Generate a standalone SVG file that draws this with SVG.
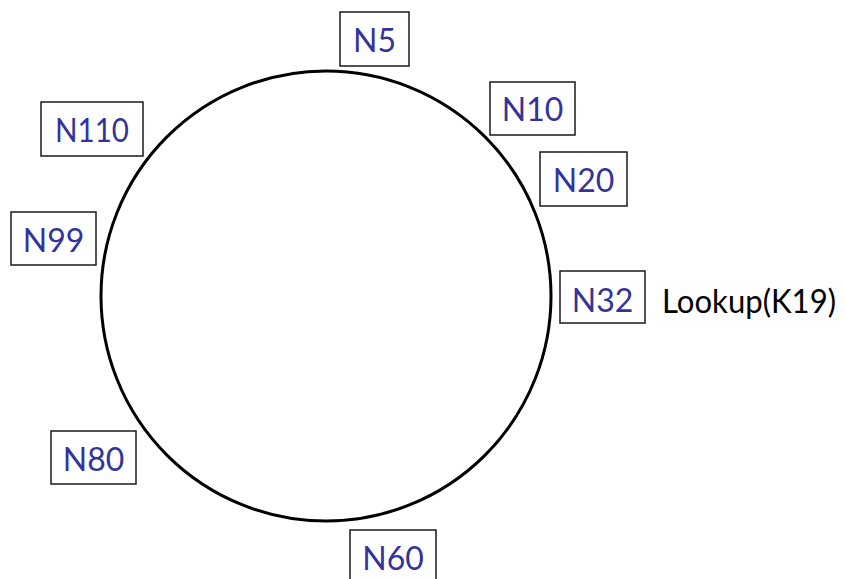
<svg xmlns="http://www.w3.org/2000/svg" width="845" height="579" viewBox="0 0 845 579">
<style>
.box{fill:#fff;stroke:#1a1a1a;stroke-width:1.5}
.lbl{font-family:Lato,"Open Sans",sans-serif;font-size:32px;fill:#333399;text-anchor:middle}
.txt{font-family:Lato,"Open Sans",sans-serif;font-size:32px;fill:#000}
</style>
<rect width="845" height="579" fill="#fff"/>
<g id="ring"><circle cx="326" cy="296" r="225" fill="none" stroke="#000" stroke-width="3"/></g>
<g id="connectors"></g>
<g id="N5"><rect class="box" x="340" y="12" width="69" height="54"/><text class="lbl" x="374.5" y="52">N5</text></g>
<g id="N10"><rect class="box" x="490" y="82" width="85" height="53"/><text class="lbl" x="532.5" y="121">N10</text></g>
<g id="N20"><rect class="box" x="540" y="152" width="87" height="54"/><text class="lbl" x="583.5" y="192">N20</text></g>
<g id="N32"><rect class="box" x="560" y="271" width="85" height="52"/><text class="lbl" x="602.5" y="312">N32</text></g>
<g id="N60"><rect class="box" x="350" y="530" width="86" height="54"/><text class="lbl" x="393" y="570">N60</text></g>
<g id="N80"><rect class="box" x="51" y="431" width="85" height="53"/><text class="lbl" x="93.5" y="471">N80</text></g>
<g id="N99"><rect class="box" x="11" y="212" width="85" height="53"/><text class="lbl" x="53.5" y="252">N99</text></g>
<g id="N110"><rect class="box" x="41" y="102" width="102" height="54"/><text class="lbl" x="92" y="142" textLength="74" lengthAdjust="spacingAndGlyphs">N110</text></g>
<g id="lookup"><text class="txt" x="662" y="313" textLength="174" lengthAdjust="spacingAndGlyphs">Lookup(K19)</text></g>
</svg>
